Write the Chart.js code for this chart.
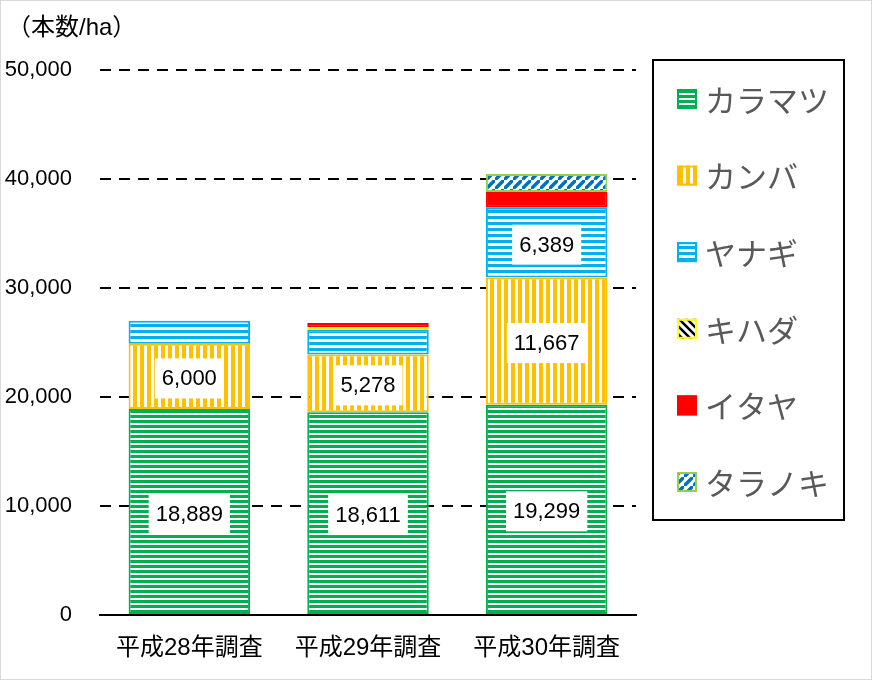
<!DOCTYPE html>
<html>
<head>
<meta charset="utf-8">
<script src="https://cdn.jsdelivr.net/npm/chart.js@4.4.1/dist/chart.umd.min.js"></script>
<style>
  body { margin: 0; background: #fff; }
  #wrap { width: 872px; height: 680px; position: relative; }
</style>
</head>
<body>
<div id="wrap"><canvas id="chart"></canvas></div>
<script>
const categories = ['平成28年調査', '平成29年調査', '平成30年調査'];
const seriesNames = ['カラマツ', 'カンバ', 'ヤナギ', 'キハダ', 'イタヤ', 'タラノキ'];
const karamatsu = [18889, 18611, 19299];
const kanba = [6000, 5278, 11667];
const yanagi = [2100, 2300, 6389];
const kihada = [null, 200, null];
const itaya = [null, 400, 1450];
const taranoki = [null, null, 1650];
const yMax = 50000;
const yStep = 10000;

const FONT = "'Liberation Sans', 'Noto Sans CJK JP', sans-serif";
const JP = "'Noto Sans CJK JP', sans-serif";

const canvas = document.getElementById('chart');
const ctx = canvas.getContext('2d');

// small tiles for the Excel-like fill patterns
function tile(w, h, draw) {
    const c = document.createElement('canvas');
    c.width = w;
    c.height = h;
    const t = c.getContext('2d');
    t.fillStyle = '#fff';
    t.fillRect(0, 0, w, h);
    draw(t, w, h);
    return ctx.createPattern(c, 'repeat');
}

function hLines(color, period, thick) {
    return tile(8, period, function(t, w) {
        t.fillStyle = color;
        t.fillRect(0, 0, w, thick);
    });
}

function vLines(color, period, thick) {
    return tile(period, 8, function(t, w, h) {
        t.fillStyle = color;
        t.fillRect(0, 0, thick, h);
    });
}

function diag(color, size, width, forward) {
    return tile(size, size, function(t, s) {
        t.strokeStyle = color;
        t.lineWidth = width;
        t.beginPath();
        if (forward) {
            t.moveTo(-s, s * 2); t.lineTo(s * 2, -s);
            t.moveTo(-s * 2, s); t.lineTo(s, -s * 2);
            t.moveTo(0, s * 3); t.lineTo(s * 3, 0);
        } else {
            t.moveTo(-s, -s); t.lineTo(s * 2, s * 2);
            t.moveTo(-s * 2, -s); t.lineTo(s, s * 2);
            t.moveTo(0, -s); t.lineTo(s * 3, s * 2);
        }
        t.stroke();
    });
}

const fills = [
    hLines('#00B050', 5, 3),
    vLines('#FFC000', 7, 4),
    hLines('#00B0F0', 6, 3),
    diag('#000000', 8, 2.5, false),
    '#FF0000',
    diag('#0070C0', 9, 3.5, true)
];
const borders = ['#00B050', '#FFC000', '#00B0F0', '#FFFF00', '#FF0000', '#92D050'];
const values = [karamatsu, kanba, yanagi, kihada, itaya, taranoki];

const datasets = values.map(function(v, i) {
    return {
        label: seriesNames[i],
        data: v,
        backgroundColor: fills[i],
        borderColor: borders[i],
        borderWidth: 2,
        borderSkipped: false
    };
});

// value boxes on the three largest series
const valueLabels = {
    id: 'valueLabels',
    afterDatasetsDraw: function(chart) {
        const c = chart.ctx;
        c.save();
        c.font = '22px ' + FONT;
        c.textAlign = 'center';
        c.textBaseline = 'middle';
        [0, 1, 2].forEach(function(di) {
            const meta = chart.getDatasetMeta(di);
            meta.data.forEach(function(bar, i) {
                const v = chart.data.datasets[di].data[i];
                if (!v) return;
                const h = Math.abs(bar.base - bar.y);
                if (h < 44) return;
                const text = v.toLocaleString('en-US');
                const w = c.measureText(text).width + 14;
                const cy = (bar.y + bar.base) / 2 + 2;
                c.fillStyle = '#fff';
                c.fillRect(bar.x - w / 2, cy - 20, w, 40);
                c.fillStyle = '#000';
                c.fillText(text, bar.x, cy + 1);
            });
        });
        c.restore();
    }
};

// unit caption, framed legend and outer frame
const extras = {
    id: 'extras',
    afterDraw: function(chart) {
        const c = chart.ctx;
        const area = chart.chartArea;
        c.save();
        c.fillStyle = '#000';
        c.font = '24px ' + FONT;
        c.textBaseline = 'middle';
        c.textAlign = 'left';
        c.fillText('（本数/ha）', 7, 28);

        const lx = area.right + 17, ly = 60, lw = 191, lh = 460;
        c.strokeStyle = '#000';
        c.lineWidth = 2;
        c.strokeRect(lx, ly, lw, lh);

        c.font = '31px ' + JP;
        chart.data.datasets.forEach(function(ds, i) {
            const cy = 99 + i * 76.6;
            const sx = lx + 24;
            c.fillStyle = ds.backgroundColor;
            c.fillRect(sx, cy - 10, 20, 20);
            c.strokeStyle = ds.borderColor;
            c.lineWidth = 2;
            c.strokeRect(sx + 1, cy - 9, 18, 18);
            c.fillStyle = '#595959';
            c.fillText(ds.label, sx + 28, cy + 1);
        });

        c.strokeStyle = '#d9d9d9';
        c.lineWidth = 1;
        c.strokeRect(0.5, 0.5, chart.width - 1, chart.height - 1);
        c.restore();
    }
};

new Chart(ctx, {
    type: 'bar',
    data: {
        labels: categories,
        datasets: datasets
    },
    options: {
        responsive: true,
        maintainAspectRatio: false,
        animation: false,
        layout: {
            padding: { top: 70, right: 236, bottom: 0, left: 0 }
        },
        datasets: {
            bar: { categoryPercentage: 0.68, barPercentage: 1 }
        },
        plugins: {
            legend: { display: false },
            tooltip: { enabled: false }
        },
        scales: {
            x: {
                stacked: true,
                grid: { display: false },
                border: { display: true, color: '#000', width: 2 },
                ticks: {
                    color: '#000',
                    padding: 11,
                    font: { size: 24, family: FONT }
                },
                afterFit: function(scale) { scale.height = 65; }
            },
            y: {
                stacked: true,
                min: 0,
                max: yMax,
                grid: {
                    color: function(c) { return c.tick.value === 0 ? 'rgba(0,0,0,0)' : '#000'; },
                    lineWidth: 2,
                    drawTicks: false
                },
                border: { display: false, dash: [11, 8] },
                ticks: {
                    stepSize: yStep,
                    color: '#000',
                    padding: 28,
                    font: { size: 22, family: FONT },
                    callback: function(v) { return v.toLocaleString('en-US'); }
                },
                afterFit: function(scale) { scale.width = 100; }
            }
        }
    },
    plugins: [valueLabels, extras]
});
</script>
</body>
</html>
